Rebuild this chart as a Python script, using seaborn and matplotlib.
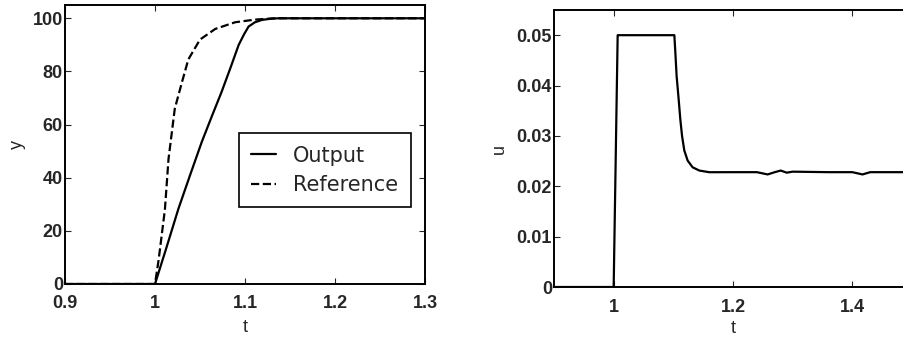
import matplotlib
matplotlib.use("Agg")
import matplotlib.pyplot as plt
import seaborn as sns

# step response
t_out = [0.9, 1.0, 1.013, 1.026, 1.039, 1.052, 1.063, 1.074, 1.084, 1.093,
         1.099, 1.104, 1.111, 1.119, 1.128, 1.137, 1.3]
y_out = [0, 0, 14, 28.3, 41, 53.5, 63, 72.3, 81.5, 90,
         94, 96.9, 98.5, 99.4, 99.8, 100, 100]

t_ref = [0.9, 1.0, 1.004, 1.011, 1.015, 1.022, 1.030, 1.037, 1.05,
         1.067, 1.089, 1.111, 1.133, 1.3]
y_ref = [0, 0, 9, 28, 47, 66, 76, 84.5, 92,
         96, 98.5, 99.5, 100, 100]

# control signal
t_u = [0.9, 1.0, 1.0067, 1.05, 1.1017, 1.1034, 1.1055, 1.1089, 1.1117, 1.1146,
       1.1184, 1.124, 1.1323, 1.1436, 1.1603, 1.2, 1.24, 1.258, 1.27, 1.28,
       1.29, 1.30, 1.36, 1.40, 1.417, 1.43, 1.5]
u = [0, 0, 0.05, 0.05, 0.05, 0.0465, 0.0419, 0.0373, 0.0333, 0.0300,
     0.0271, 0.0251, 0.02377, 0.02312, 0.02279, 0.0228, 0.0228, 0.02235, 0.0228, 0.02312,
     0.0227, 0.0229, 0.0228, 0.0228, 0.02235, 0.0228, 0.0228]

sns.set_style("ticks")
plt.rcParams['font.family'] = ['Liberation Sans', 'DejaVu Sans']
plt.rcParams.update({
    'xtick.direction': 'in', 'ytick.direction': 'in',
    'xtick.top': True, 'ytick.right': True,
    'xtick.major.size': 4, 'ytick.major.size': 4,
    'axes.linewidth': 1.4, 'axes.edgecolor': 'black',
})

W, H = 904, 338
fig = plt.figure(figsize=(W / 100, H / 100), dpi=100)
ax1 = fig.add_axes([65 / W, (H - 284) / H, 360 / W, 279 / H])
ax2 = fig.add_axes([554 / W, (H - 287) / H, 358 / W, 277 / H])

sns.lineplot(x=t_out, y=y_out, ax=ax1, color='black', linewidth=1.6,
             estimator=None, sort=False, label='Output')
sns.lineplot(x=t_ref, y=y_ref, ax=ax1, color='black', linewidth=1.6,
             linestyle='--', dashes=(3.5, 3.5), estimator=None, sort=False, label='Reference')
ax1.set_xlim(0.9, 1.3)
ax1.set_ylim(0, 105)
ax1.set_xticks([0.9, 1.0, 1.1, 1.2, 1.3])
ax1.set_xticklabels(['0.9', '1', '1.1', '1.2', '1.3'])
ax1.set_yticks([0, 20, 40, 60, 80, 100])
ax1.set_xlabel('t', fontsize=13, labelpad=5)
ax1.set_ylabel('y', fontsize=13, labelpad=5)
ax1.legend(loc='upper left', bbox_to_anchor=(0.483, 0.541), borderaxespad=0,
           prop={'family': 'DejaVu Sans', 'size': 15},
           frameon=True, fancybox=False, edgecolor='black', framealpha=1,
           handlelength=1.2, handletextpad=0.8, borderpad=0.6, labelspacing=0.45)
ax1.get_legend().get_frame().set_linewidth(1.2)
ax1.tick_params(axis='x', pad=8)

sns.lineplot(x=t_u, y=u, ax=ax2, color='black', linewidth=1.6,
             estimator=None, sort=False)
ax2.set_xlim(0.9, 1.5)
ax2.set_ylim(0, 0.055)
ax2.set_xticks([1.0, 1.2, 1.4])
ax2.set_xticklabels(['1', '1.2', '1.4'])
ax2.set_yticks([0, 0.01, 0.02, 0.03, 0.04, 0.05])
ax2.set_yticklabels(['0', '0.01', '0.02', '0.03', '0.04', '0.05'])
ax2.set_xlabel('t', fontsize=13, labelpad=2.5)
ax2.set_ylabel('u', fontsize=13, labelpad=6)
ax2.tick_params(axis='x', pad=9)

for ax in (ax1, ax2):
    for sp in ax.spines.values():
        sp.set_visible(True)
    ax.tick_params(labelsize=13)
    ax.tick_params(axis='y', pad=1.5)
    for lab in ax.get_xticklabels() + ax.get_yticklabels():
        lab.set_fontweight('bold')

fig.savefig('out.png', dpi=100)
